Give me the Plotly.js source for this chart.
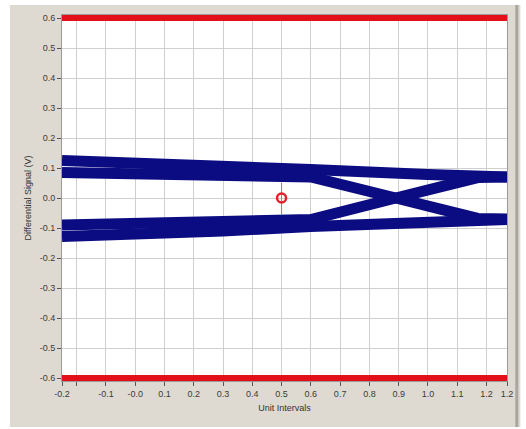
<!DOCTYPE html>
<html>
<head>
<meta charset="utf-8">
<script src="https://cdn.plot.ly/plotly-3.0.1.min.js"></script>
<style>html,body{margin:0;padding:0;background:#fff;}#chart{width:526px;height:429px;}</style>
</head>
<body>
<div id="chart"></div>
<script>
// Unit-interval positions and signal levels (V)
var hiStayX = [-0.25, 0.0, 0.3, 0.6, 1.0, 1.27];
var hiStayY = [0.125, 0.118, 0.108, 0.095, 0.078, 0.07];
var hiFallX = [-0.25, 0.2, 0.5, 0.6, 0.89, 1.17, 1.27];
var hiFallY = [0.085, 0.08, 0.075, 0.07, 0.0, -0.068, -0.07];
var loStayX = [-0.25, 0.0, 0.3, 0.6, 1.0, 1.27];
var loStayY = [-0.128, -0.122, -0.11, -0.095, -0.078, -0.072];
var loRiseX = [-0.25, 0.2, 0.5, 0.6, 0.89, 1.17, 1.27];
var loRiseY = [-0.09, -0.085, -0.078, -0.072, 0.0, 0.068, 0.07];
var maskX = [-0.25, 1.27];
var maskTop = [0.6, 0.6];
var maskBot = [-0.6, -0.6];
var cursorX = [0.5];
var cursorY = [0.0];
var cursorLineX = [0.5, 0.5];
var cursorLineY = [0.05, -0.055];

var xTickVals = [-0.25, -0.2, -0.1, 0.0, 0.1, 0.2, 0.3, 0.4, 0.5, 0.6, 0.7, 0.8, 0.9, 1.0, 1.1, 1.2, 1.27];
var xTickText = ["-0.2", "", "-0.1", "-0.0", "0.1", "0.2", "0.3", "0.4", "0.5", "0.6", "0.7", "0.8", "0.9", "1.0", "1.1", "1.2", "1.2"];
var yTickVals = [-0.6, -0.5, -0.4, -0.3, -0.2, -0.1, 0.0, 0.1, 0.2, 0.3, 0.4, 0.5, 0.6];
var yTickText = ["-0.6", "-0.5", "-0.4", "-0.3", "-0.2", "-0.1", "0.0", "0.1", "0.2", "0.3", "0.4", "0.5", "0.6"];

var navy = '#0c0c82';
var eyeW = 11;

var traces = [
  {x: hiStayX, y: hiStayY, mode: 'lines', line: {color: navy, width: eyeW}, hoverinfo: 'skip'},
  {x: hiFallX, y: hiFallY, mode: 'lines', line: {color: navy, width: eyeW}, hoverinfo: 'skip'},
  {x: loStayX, y: loStayY, mode: 'lines', line: {color: navy, width: eyeW}, hoverinfo: 'skip'},
  {x: loRiseX, y: loRiseY, mode: 'lines', line: {color: navy, width: eyeW}, hoverinfo: 'skip'},
  {x: maskX, y: maskTop, mode: 'lines', line: {color: '#e3101a', width: 6}, hoverinfo: 'skip'},
  {x: maskX, y: maskBot, mode: 'lines', line: {color: '#e3101a', width: 6}, hoverinfo: 'skip'},
  {x: cursorLineX, y: cursorLineY, mode: 'lines', line: {color: '#e86060', width: 1}, hoverinfo: 'skip'},
  {x: cursorX, y: cursorY, mode: 'markers', marker: {symbol: 'circle-open', color: '#e8202a', size: 9, line: {width: 2.5, color: '#e8202a'}}, hoverinfo: 'skip'}
];

var tickFont = {family: 'Liberation Sans, Arial, sans-serif', size: 9, color: '#3a3a3a'};

var layout = {
  width: 526, height: 429,
  margin: {l: 62, r: 19, t: 15, b: 48, pad: 0},
  paper_bgcolor: '#dedad2',
  plot_bgcolor: '#ffffff',
  showlegend: false,
  xaxis: {
    range: [-0.25, 1.27],
    tickmode: 'array', tickvals: xTickVals, ticktext: xTickText,
    ticks: 'outside', ticklen: 4, tickcolor: '#555',
    showgrid: true, gridcolor: '#cfcfcf', gridwidth: 1,
    zeroline: false,
    showline: true, linecolor: '#9a9a9a', mirror: true,
    tickfont: tickFont,
    title: {text: 'Unit Intervals', font: {family: 'Liberation Sans, Arial, sans-serif', size: 9, color: '#333'}, standoff: 6}
  },
  yaxis: {
    range: [-0.61, 0.61],
    tickmode: 'array', tickvals: yTickVals, ticktext: yTickText,
    ticks: 'outside', ticklen: 4, tickcolor: '#555',
    showgrid: true, gridcolor: '#cfcfcf', gridwidth: 1,
    zeroline: false,
    showline: true, linecolor: '#9a9a9a', mirror: true,
    tickfont: tickFont,
    title: {text: 'Differential Signal (V)', font: {family: 'Liberation Sans, Arial, sans-serif', size: 9, color: '#333'}, standoff: 6}
  },
  shapes: [
    {type: 'rect', xref: 'paper', yref: 'paper', x0: -0.3, x1: -0.117, y0: -0.3, y1: 1.2,
     fillcolor: '#ffffff', line: {width: 0}, layer: 'above'},
    {type: 'rect', xref: 'paper', yref: 'paper', x0: -0.3, x1: 1.2, y0: 1.027, y1: 1.2,
     fillcolor: '#ffffff', line: {width: 0}, layer: 'above'},
    {type: 'rect', xref: 'paper', yref: 'paper', x0: -0.3, x1: 1.2, y0: -0.3, y1: -0.126,
     fillcolor: '#ffffff', line: {width: 0}, layer: 'above'},
    {type: 'rect', xref: 'paper', yref: 'paper', x0: 1.03, x1: 1.2, y0: -0.3, y1: 1.2,
     fillcolor: '#ffffff', line: {width: 0}, layer: 'above'},
    {type: 'line', xref: 'paper', yref: 'paper', x0: 1.022, x1: 1.022, y0: -0.126, y1: 1.027,
     line: {color: '#aaa69e', width: 3}, layer: 'above'}
  ]
};

Plotly.newPlot('chart', traces, layout, {displayModeBar: false, staticPlot: true});
</script>
</body>
</html>
